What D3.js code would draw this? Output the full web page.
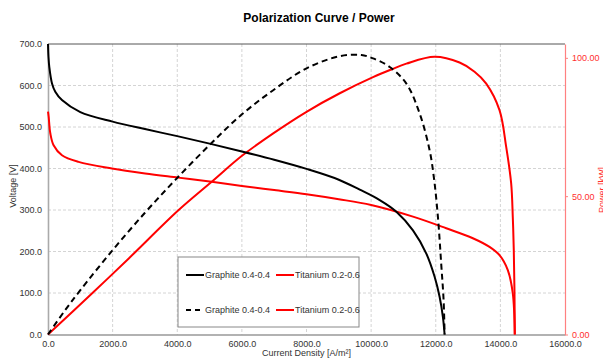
<!DOCTYPE html>
<html>
<head>
<meta charset="utf-8">
<script src="https://cdn.jsdelivr.net/npm/d3@7"></script>
<style>
  body { margin: 0; background: #fff; }
  svg { font-family: "Liberation Sans", Arial, sans-serif; }
</style>
</head>
<body>
<div id="chart"></div>
<script>
// NOTE: values
const graphiteJ = [0, 15, 40, 124, 225, 432, 1000, 2000, 3000, 4000, 5000, 6000, 7000, 8000, 9000, 9648, 10266, 10781, 11295, 11708, 11965, 12119, 12222, 12274];
const graphiteV = [700, 668, 645, 605, 585, 565, 536, 513, 495, 478, 460, 441, 421, 399, 373, 349, 324, 296, 251, 195, 139, 91, 42, 0];

const titaniumJ = [0, 20, 71, 173, 432, 945, 1977, 3006, 4035, 5066, 6000, 7000, 8000, 9000, 10000, 11295, 12326, 13148, 13664, 13973, 14230, 14384, 14446];
const titaniumV = [537, 525, 485, 456, 432, 416, 400, 388, 378, 368, 358, 348, 338, 326, 312, 284, 256, 232, 211, 191, 155, 99, 0];

const graphitePowJ = [0, 500, 1000, 2000, 3000, 3933, 5000, 5993, 6970, 8001, 9030, 9700, 10059, 10575, 11090, 11501, 11810, 11950, 12067, 12172, 12243, 12274];
const graphitePowP = [0, 8.3, 16, 30.5, 44, 55.8, 68.5, 79.5, 88.3, 96.2, 100.6, 101, 99.8, 96.7, 90.7, 79.9, 66.6, 56, 42.5, 25, 12.4, 0];

const titaniumPowJ = [0, 1359, 2500, 4035, 5066, 5993, 6970, 8001, 9030, 10059, 10627, 11090, 11965, 12737, 13200, 13562, 13973, 14180, 14334, 14384, 14415, 14436, 14446];
const titaniumPowP = [0, 14.8, 27.5, 44.9, 55.2, 64.5, 72.7, 80.5, 87.2, 93, 95.8, 97.9, 100.4, 98.3, 95, 90.7, 81.1, 67.8, 54.6, 42.5, 30.5, 16, 0];

const xTicks = [0, 2000, 4000, 6000, 8000, 10000, 12000, 14000, 16000];
const yTicks = [0, 100, 200, 300, 400, 500, 600, 700];
const y2Ticks = [0, 50, 100];

const legendItems = [
  { label: 'Graphite 0.4-0.4', color: '#000', dash: null },
  { label: 'Titanium 0.2-0.6', color: '#ff0000', dash: null },
  { label: 'Graphite 0.4-0.4', color: '#000', dash: '5,4' },
  { label: 'Titanium 0.2-0.6', color: '#ff0000', dash: null },
];

// NOTE: layout
const W = 603, H = 360;
const margin = { top: 44, right: 38, bottom: 25.5, left: 48 };
const width = W - margin.left - margin.right;
const height = H - margin.top - margin.bottom;

const svg = d3.select('#chart').append('svg')
  .attr('width', W)
  .attr('height', H);

const x = d3.scaleLinear().domain([0, 16000]).range([0, width]);
const y = d3.scaleLinear().domain([0, 700]).range([height, 0]);
const y2 = d3.scaleLinear().domain([0, 105]).range([height, 0]);

const g = svg.append('g').attr('transform', `translate(${margin.left},${margin.top})`);

// gridlines
g.append('g')
  .selectAll('line')
  .data(yTicks.slice(1, -1))
  .join('line')
  .attr('x1', 0).attr('x2', width)
  .attr('y1', (d) => y(d)).attr('y2', (d) => y(d))
  .attr('stroke', '#d4d4d4').attr('stroke-dasharray', '3,2');
g.append('g')
  .selectAll('line')
  .data(xTicks.slice(1, -1))
  .join('line')
  .attr('y1', 0).attr('y2', height)
  .attr('x1', (d) => x(d)).attr('x2', (d) => x(d))
  .attr('stroke', '#d4d4d4').attr('stroke-dasharray', '3,2');

// top border
g.append('line')
  .attr('x1', 0).attr('x2', width).attr('y1', 0).attr('y2', 0)
  .attr('stroke', '#555');

// axes
const xAxis = g.append('g')
  .attr('transform', `translate(0,${height})`)
  .call(d3.axisBottom(x).tickValues(xTicks).tickFormat(d3.format('.1f')).tickSize(0).tickPadding(6));
xAxis.select('.domain').attr('stroke', '#666').attr('stroke-width', 1.2);
xAxis.selectAll('text').attr('font-size', 9).attr('fill', '#333');

const yAxis = g.append('g')
  .call(d3.axisLeft(y).tickValues(yTicks).tickFormat(d3.format('.1f')).tickSize(0).tickPadding(6));
yAxis.select('.domain').attr('stroke', '#aaa').attr('stroke-width', 1.6);
yAxis.selectAll('text').attr('font-size', 9).attr('fill', '#333');

const y2Axis = g.append('g')
  .attr('transform', `translate(${width},0)`)
  .call(d3.axisRight(y2).tickValues(y2Ticks).tickFormat(d3.format('.2f')).tickSize(3).tickSizeOuter(0).tickPadding(4));
y2Axis.select('.domain').attr('stroke', '#ff8080').attr('stroke-width', 1.2);
y2Axis.selectAll('line').attr('stroke', '#ff8080');
y2Axis.selectAll('text').attr('font-size', 9).attr('fill', '#ff3030');

// curves
const smooth = d3.curveCatmullRom.alpha(0.5);
const vLine = d3.line().x((d) => x(d[0])).y((d) => y(d[1])).curve(smooth);
const pLine = d3.line().x((d) => x(d[0])).y((d) => y2(d[1])).curve(smooth);

const series = [
  { path: vLine(d3.zip(titaniumJ, titaniumV)), color: '#ff0000', dash: null },
  { path: pLine(d3.zip(titaniumPowJ, titaniumPowP)), color: '#ff0000', dash: null },
  { path: vLine(d3.zip(graphiteJ, graphiteV)), color: '#000', dash: null },
  { path: pLine(d3.zip(graphitePowJ, graphitePowP)), color: '#000', dash: '6,4' },
];
g.append('g')
  .selectAll('path')
  .data(series)
  .join('path')
  .attr('d', (d) => d.path)
  .attr('fill', 'none')
  .attr('stroke', (d) => d.color)
  .attr('stroke-width', 2)
  .attr('stroke-dasharray', (d) => d.dash);

// legend
const legend = svg.append('g').attr('transform', 'translate(178,257)');
legend.append('rect')
  .attr('width', 181).attr('height', 70)
  .attr('fill', '#fff').attr('stroke', '#888').attr('stroke-width', 1);
const item = legend.selectAll('.item')
  .data(legendItems)
  .join('g')
  .attr('class', 'item')
  .attr('transform', (d, i) => `translate(${8 + (i % 2) * 90},${i < 2 ? 18 : 53})`);
item.append('line')
  .attr('x1', 0).attr('x2', 18)
  .attr('stroke', (d) => d.color)
  .attr('stroke-width', 2)
  .attr('stroke-dasharray', (d) => d.dash);
item.append('text')
  .attr('x', 19).attr('dy', '0.35em')
  .attr('font-size', 9).attr('fill', '#333')
  .text((d) => d.label);

// titles
svg.append('text')
  .attr('x', 319).attr('y', 22)
  .attr('text-anchor', 'middle')
  .attr('font-size', 12).attr('font-weight', 'bold')
  .text('Polarization Curve / Power');
svg.append('text')
  .attr('x', margin.left + width / 2).attr('y', 356)
  .attr('text-anchor', 'middle')
  .attr('font-size', 9).attr('fill', '#333')
  .text('Current Density [A/m²]');
svg.append('text')
  .attr('transform', 'translate(16,186) rotate(-90)')
  .attr('text-anchor', 'middle')
  .attr('font-size', 9).attr('fill', '#333')
  .text('Voltage [V]');
svg.append('text')
  .attr('transform', 'translate(605,190) rotate(-90)')
  .attr('text-anchor', 'middle')
  .attr('font-size', 9).attr('fill', '#ff3030')
  .text('Power [kW]');
</script>
</body>
</html>
